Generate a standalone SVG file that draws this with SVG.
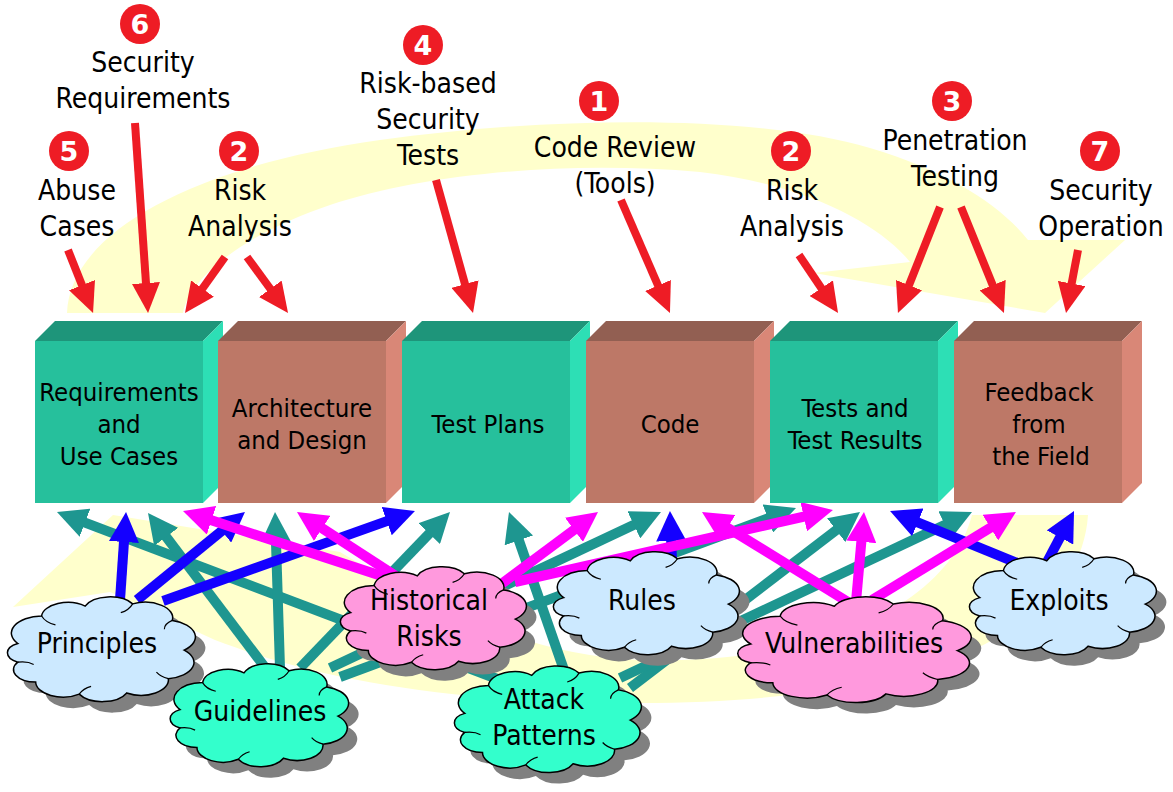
<svg xmlns="http://www.w3.org/2000/svg" width="1173" height="792" viewBox="0 0 1173 792">
<style>
text{font-family:"DejaVu Sans Condensed","Liberation Sans",Arial,sans-serif;fill:#000}
.lbl{font-size:28px;text-anchor:middle}
.bt{font-size:25.5px;text-anchor:middle}
.ct{font-size:28px;text-anchor:middle}
.num{font-family:"DejaVu Sans","Liberation Sans",sans-serif;font-weight:bold;font-size:27px;fill:#fff;text-anchor:middle}
.nc{fill:#EE1C25}
.yel{fill:#FFFFCC}
.tf{fill:#26C09C}.tt{fill:#1E957A}.tr{fill:#2DDFB5}
.bf{fill:#BD7867}.bto{fill:#925F52}.br{fill:#D98777}
.red{stroke:#EE1C25;stroke-width:8;fill:none;marker-end:url(#hr)}
.teal{stroke:#1E9690;stroke-width:10;fill:none;marker-end:url(#ht)}
.blue{stroke:#1400FF;stroke-width:10;fill:none;marker-end:url(#hb)}
.mag{stroke:#FF00FF;stroke-width:10;fill:none;marker-end:url(#hm)}
.sh{fill:#808080;stroke:none}
.cb{fill:#CCE9FF;stroke:#000}
.cp{fill:#FF99DD;stroke:#000}
.ca{fill:#33FFCC;stroke:#000}
.curl{fill:none;stroke:#000}
</style>
<defs>
<marker id="hr" markerUnits="userSpaceOnUse" markerWidth="30" markerHeight="28" viewBox="0 0 30 28" refX="12" refY="14" orient="auto"><path d="M0,0 L30,14 L0,28 z" fill="#EE1C25"/></marker>
<marker id="ht" markerUnits="userSpaceOnUse" markerWidth="30" markerHeight="30" viewBox="0 0 30 30" refX="12" refY="15" orient="auto"><path d="M0,0 L30,15 L0,30 z" fill="#1E9690"/></marker>
<marker id="hb" markerUnits="userSpaceOnUse" markerWidth="30" markerHeight="30" viewBox="0 0 30 30" refX="12" refY="15" orient="auto"><path d="M0,0 L30,15 L0,30 z" fill="#1400FF"/></marker>
<marker id="hm" markerUnits="userSpaceOnUse" markerWidth="30" markerHeight="30" viewBox="0 0 30 30" refX="12" refY="15" orient="auto"><path d="M0,0 L30,15 L0,30 z" fill="#FF00FF"/></marker>
<path id="cloud" vector-effect="non-scaling-stroke" stroke-width="1.5" d="M8,45 A15.5,15.5 0 0 1 20,20 A13.3,13.3 0 0 1 42,11 A13.5,13.5 0 0 1 66,9 A14,14 0 0 1 86,24 A15.5,15.5 0 0 1 92,51 A15,15 0 0 1 84,77 A13.8,13.8 0 0 1 63,90 A13.5,13.5 0 0 1 39,91 A13.8,13.8 0 0 1 17,80 A11.3,11.3 0 0 1 8,62 A9.5,9.5 0 0 1 8,45 Z"/>
<path id="curls" vector-effect="non-scaling-stroke" stroke-width="1.2" d="M20,20 Q22,26 27,28 M66,9 Q64,15 60,17 M86,24 Q82,27 82,32 M84,77 Q80,75 78,71 M39,91 Q41,86 45,84 M8,62 Q13,61 16,64"/>
</defs>

<g id="background-cycle">
<path class="yel" d="M67,313 C70,230 200,165 380,140 C560,115 760,115 870,148 C950,172 1000,205 1028,240 L1125,240 L1045,313 L814,273 L910,262 C880,225 810,185 700,172 C560,160 420,175 330,205 C250,232 190,275 183,313 Z"/>
<path class="yel" d="M13,607 L113,515 L340,552 C420,600 520,655 640,660 C830,665 950,600 972,515 L1088,515 C1080,640 900,703 640,703 C450,703 320,680 215,640 L110,592 Z"/>
</g>

<g id="labels">
<g id="lbl-6"><circle class="nc" cx="140" cy="24" r="20"/><text class="num" x="140" y="34">6</text><text class="lbl" x="143" y="72">Security</text><text class="lbl" x="143" y="108">Requirements</text></g>
<g id="lbl-5"><circle class="nc" cx="69" cy="151" r="20"/><text class="num" x="69" y="161">5</text><text class="lbl" x="77" y="200">Abuse</text><text class="lbl" x="77" y="236">Cases</text></g>
<g id="lbl-2a"><circle class="nc" cx="239" cy="151" r="20"/><text class="num" x="239" y="161">2</text><text class="lbl" x="240" y="200">Risk</text><text class="lbl" x="240" y="236">Analysis</text></g>
<g id="lbl-4"><circle class="nc" cx="423" cy="45" r="20"/><text class="num" x="423" y="55">4</text><text class="lbl" x="428" y="93">Risk-based</text><text class="lbl" x="428" y="129">Security</text><text class="lbl" x="428" y="165">Tests</text></g>
<g id="lbl-1"><circle class="nc" cx="599" cy="101" r="20"/><text class="num" x="599" y="111">1</text><text class="lbl" x="615" y="157">Code Review</text><text class="lbl" x="615" y="193">(Tools)</text></g>
<g id="lbl-2b"><circle class="nc" cx="791" cy="151" r="20"/><text class="num" x="791" y="161">2</text><text class="lbl" x="792" y="200">Risk</text><text class="lbl" x="792" y="236">Analysis</text></g>
<g id="lbl-3"><circle class="nc" cx="952" cy="101" r="20"/><text class="num" x="952" y="111">3</text><text class="lbl" x="955" y="150">Penetration</text><text class="lbl" x="955" y="186">Testing</text></g>
<g id="lbl-7"><circle class="nc" cx="1100" cy="151" r="20"/><text class="num" x="1100" y="161">7</text><text class="lbl" x="1101" y="200">Security</text><text class="lbl" x="1101" y="236">Operation</text></g>
</g>

<g id="connectors">
<line class="red" x1="68" y1="250" x2="86.4" y2="296.3"/>
<line class="red" x1="135" y1="123" x2="146.8" y2="295"/>
<line class="red" x1="225" y1="257" x2="195.5" y2="298.3"/>
<line class="red" x1="247" y1="257" x2="277.4" y2="298.5"/>
<line class="red" x1="436" y1="180" x2="468.2" y2="295.6"/>
<line class="red" x1="621" y1="200" x2="662.8" y2="296.5"/>
<line class="red" x1="799" y1="255" x2="828" y2="298.1"/>
<line class="red" x1="940" y1="207" x2="904.6" y2="296.3"/>
<line class="red" x1="961" y1="207" x2="997.2" y2="296.3"/>
<line class="red" x1="1078" y1="250" x2="1069.4" y2="295.3"/>

<line class="teal" x1="500" y1="680" x2="73.8" y2="518.4"/>
<line class="teal" x1="267" y1="670" x2="158.9" y2="527.3"/>
<line class="teal" x1="280" y1="668" x2="275.6" y2="530"/>
<line class="teal" x1="300" y1="668" x2="437.5" y2="525"/>
<line class="teal" x1="330" y1="668" x2="644.7" y2="519.7"/>
<line class="teal" x1="340" y1="677" x2="779.1" y2="514.3"/>
<line class="teal" x1="564" y1="670" x2="514.9" y2="529"/>
<line class="teal" x1="630" y1="688" x2="845.7" y2="522.9"/>
<line class="teal" x1="620" y1="678" x2="955.7" y2="519.7"/>

<line class="blue" x1="120" y1="600" x2="124.8" y2="530"/>
<line class="blue" x1="137" y1="600" x2="231" y2="523.4"/>
<line class="blue" x1="163" y1="601" x2="398" y2="517.1"/>
<line class="blue" x1="672" y1="560" x2="670.7" y2="529"/>
<line class="blue" x1="1027" y1="567" x2="906.7" y2="517.8"/>
<line class="blue" x1="1047" y1="562" x2="1065.6" y2="526.9"/>

<line class="mag" x1="400" y1="582" x2="200.1" y2="516.6"/>
<line class="mag" x1="405" y1="582" x2="312.1" y2="521.8"/>
<line class="mag" x1="500" y1="585" x2="583.6" y2="522.7"/>
<line class="mag" x1="515" y1="582" x2="815.4" y2="514"/>
<line class="mag" x1="848" y1="602" x2="717.3" y2="521.4"/>
<line class="mag" x1="856" y1="602" x2="862.4" y2="529.9"/>
<line class="mag" x1="872" y1="600" x2="1000.6" y2="521.4"/>
</g>

<g id="box-requirements" transform="translate(35,0)">
<polygon class="tt" points="0,341 20,321 188,321 168,341"/><polygon class="tr" points="168,341 188,321 188,483 168,503"/><rect class="tf" x="0" y="341" width="168" height="162"/>
<text class="bt" x="84" y="401">Requirements</text><text class="bt" x="84" y="433">and</text><text class="bt" x="84" y="465">Use Cases</text>
</g>
<g id="box-architecture" transform="translate(218,0)">
<polygon class="bto" points="0,341 20,321 188,321 168,341"/><polygon class="br" points="168,341 188,321 188,483 168,503"/><rect class="bf" x="0" y="341" width="168" height="162"/>
<text class="bt" x="84" y="417">Architecture</text><text class="bt" x="84" y="449">and Design</text>
</g>
<g id="box-testplans" transform="translate(402,0)">
<polygon class="tt" points="0,341 20,321 188,321 168,341"/><polygon class="tr" points="168,341 188,321 188,483 168,503"/><rect class="tf" x="0" y="341" width="168" height="162"/>
<text class="bt" x="86" y="433">Test Plans</text>
</g>
<g id="box-code" transform="translate(586,0)">
<polygon class="bto" points="0,341 20,321 188,321 168,341"/><polygon class="br" points="168,341 188,321 188,483 168,503"/><rect class="bf" x="0" y="341" width="168" height="162"/>
<text class="bt" x="84" y="433">Code</text>
</g>
<g id="box-tests" transform="translate(770,0)">
<polygon class="tt" points="0,341 20,321 188,321 168,341"/><polygon class="tr" points="168,341 188,321 188,483 168,503"/><rect class="tf" x="0" y="341" width="168" height="162"/>
<text class="bt" x="85" y="417">Tests and</text><text class="bt" x="85" y="449">Test Results</text>
</g>
<g id="box-feedback" transform="translate(954,0)">
<polygon class="bto" points="0,341 20,321 188,321 168,341"/><polygon class="br" points="168,341 188,321 188,483 168,503"/><rect class="bf" x="0" y="341" width="168" height="162"/>
<text class="bt" x="85" y="401">Feedback</text><text class="bt" x="85" y="433">from</text><text class="bt" x="87" y="465">the Field</text>
</g>

<g id="cloud-principles">
<use href="#cloud" class="sh" transform="translate(12,605) scale(1.98,1.1)"/>
<use href="#cloud" class="cb" transform="translate(2,594) scale(1.98,1.1)"/>
<use href="#curls" class="curl" transform="translate(2,594) scale(1.98,1.1)"/>
<text class="ct" x="97" y="653">Principles</text>
</g>
<g id="cloud-guidelines">
<use href="#cloud" class="sh" transform="translate(175,672) scale(1.88,1.08)"/>
<use href="#cloud" class="ca" transform="translate(165,661) scale(1.88,1.08)"/>
<use href="#curls" class="curl" transform="translate(165,661) scale(1.88,1.08)"/>
<text class="ct" x="260" y="721">Guidelines</text>
</g>
<g id="cloud-historical">
<use href="#cloud" class="sh" transform="translate(345,575) scale(1.96,1.08)"/>
<use href="#cloud" class="cp" transform="translate(335,564) scale(1.96,1.08)"/>
<use href="#curls" class="curl" transform="translate(335,564) scale(1.96,1.08)"/>
<text class="ct" x="429" y="610">Historical</text><text class="ct" x="429" y="646">Risks</text>
</g>
<g id="cloud-attack">
<use href="#cloud" class="sh" transform="translate(459,674) scale(1.97,1.12)"/>
<use href="#cloud" class="ca" transform="translate(449,663) scale(1.97,1.12)"/>
<use href="#curls" class="curl" transform="translate(449,663) scale(1.97,1.12)"/>
<text class="ct" x="544" y="709">Attack</text><text class="ct" x="544" y="745">Patterns</text>
</g>
<g id="cloud-rules">
<use href="#cloud" class="sh" transform="translate(558,560) scale(1.96,1.08)"/>
<use href="#cloud" class="cb" transform="translate(548,549) scale(1.96,1.08)"/>
<use href="#curls" class="curl" transform="translate(548,549) scale(1.96,1.08)"/>
<text class="ct" x="642" y="610">Rules</text>
</g>
<g id="cloud-vulnerabilities">
<use href="#cloud" class="sh" transform="translate(741,605) scale(2.46,1.11)"/>
<use href="#cloud" class="cp" transform="translate(731,594) scale(2.46,1.11)"/>
<use href="#curls" class="curl" transform="translate(731,594) scale(2.46,1.11)"/>
<text class="ct" x="854" y="653">Vulnerabilities</text>
</g>
<g id="cloud-exploits">
<use href="#cloud" class="sh" transform="translate(974,560) scale(1.97,1.08)"/>
<use href="#cloud" class="cb" transform="translate(964,549) scale(1.97,1.08)"/>
<use href="#curls" class="curl" transform="translate(964,549) scale(1.97,1.08)"/>
<text class="ct" x="1059" y="610">Exploits</text>
</g>
</svg>
